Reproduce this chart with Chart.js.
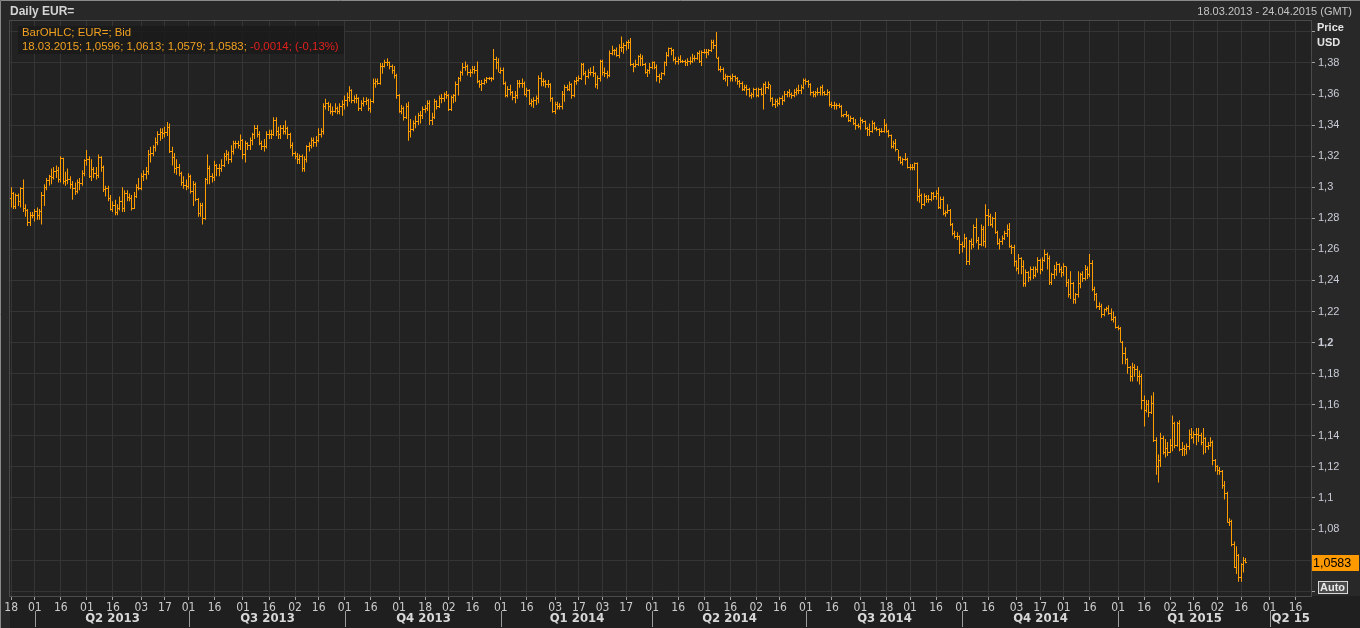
<!DOCTYPE html>
<html>
<head>
<meta charset="utf-8">
<title>Daily EUR=</title>
<script src="https://cdn.jsdelivr.net/npm/chart.js@4.4.1/dist/chart.umd.min.js"></script>
<style>
  html, body { margin: 0; padding: 0; background: #262626; overflow: hidden; }
  canvas { display: block; }
</style>
</head>
<body>
<canvas id="eurChart" width="1360" height="628"></canvas>
<script>
// EUR= daily bid bars, one per weekday from 18.03.2013 to 18.03.2015.
// FX trades round the clock, so each bar opens at the previous close.
const firstOpen = 1.293;

const closes = [
  1.296,1.2875,1.2945,1.2905,1.299, 1.286,1.285,1.2775,1.282,1.282,
  1.2845,1.2815,1.2845,1.2945,1.3, 1.3045,1.307,1.306,1.31,1.311,
  1.305,1.3185,1.304,1.3045,1.305, 1.302,1.299,1.2975,1.303,1.3025,
  1.309,1.317,1.318,1.307,1.3115, 1.309,1.3075,1.319,1.313,1.2985,
  1.299,1.293,1.2855,1.288,1.2835, 1.286,1.291,1.286,1.296,1.2935,
  1.293,1.2865,1.294,1.3,1.2995, 1.307,1.308,1.31,1.321,1.322,
  1.3255,1.329,1.334,1.335,1.3345, 1.335,1.3385,1.323,1.319,1.312,
  1.313,1.309,1.303,1.301,1.3005, 1.307,1.2975,1.302,1.292,1.283,
  1.288,1.28,1.305,1.312,1.307, 1.306,1.314,1.312,1.312,1.314,
  1.32,1.321,1.318,1.323,1.328, 1.328,1.327,1.33,1.321,1.328,
  1.327,1.33,1.334,1.338,1.334, 1.328,1.326,1.326,1.334,1.334,
  1.334,1.343,1.336,1.334,1.338, 1.336,1.338,1.334,1.327,1.322,
  1.32,1.318,1.32,1.312,1.318, 1.326,1.327,1.33,1.329,1.33,
  1.334,1.336,1.352,1.354,1.352, 1.349,1.349,1.351,1.349,1.352,
  1.353,1.356,1.358,1.362,1.356, 1.357,1.357,1.351,1.354,1.355,
  1.356,1.351,1.355,1.367,1.368, 1.367,1.378,1.378,1.38,1.38,
  1.378,1.375,1.372,1.359,1.349, 1.351,1.345,1.352,1.336,1.337,
  1.341,1.342,1.346,1.346,1.35, 1.351,1.354,1.343,1.345,1.355,
  1.352,1.357,1.357,1.36,1.359, 1.35,1.358,1.359,1.366,1.37,
  1.374,1.377,1.378,1.374,1.374, 1.376,1.375,1.368,1.366,1.367,
  1.369,1.37,1.37,1.37,1.382, 1.38,1.374,1.375,1.367,1.359,
  1.363,1.361,1.358,1.359,1.367, 1.367,1.367,1.36,1.362,1.354,
  1.355,1.356,1.357,1.37,1.368, 1.368,1.366,1.366,1.357,1.349,
  1.353,1.352,1.352,1.36,1.364, 1.363,1.366,1.359,1.368,1.369,
  1.37,1.379,1.373,1.371,1.374, 1.374,1.373,1.366,1.37,1.381,
  1.374,1.373,1.372,1.386,1.388, 1.388,1.385,1.39,1.39,1.391,
  1.393,1.393,1.379,1.378,1.379, 1.384,1.383,1.379,1.374,1.375,
  1.377,1.38,1.377,1.371,1.37, 1.373,1.38,1.385,1.389,1.388,
  1.382,1.381,1.382,1.381,1.381, 1.38,1.381,1.381,1.383,1.383,
  1.386,1.381,1.387,1.387,1.387, 1.388,1.393,1.391,1.383,1.376,
  1.376,1.37,1.371,1.371,1.37, 1.371,1.37,1.368,1.367,1.363,
  1.364,1.363,1.359,1.36,1.363, 1.359,1.363,1.36,1.366,1.364,
  1.366,1.357,1.353,1.355,1.354, 1.357,1.356,1.36,1.361,1.36,
  1.359,1.361,1.362,1.362,1.364, 1.369,1.368,1.366,1.361,1.36,
  1.361,1.361,1.364,1.361,1.36, 1.361,1.353,1.3525,1.3525,1.3525,
  1.352,1.346,1.3465,1.346,1.343, 1.344,1.341,1.34,1.339,1.343,
  1.342,1.338,1.337,1.336,1.341, 1.338,1.337,1.336,1.336,1.34,
  1.336,1.333,1.326,1.328,1.324, 1.319,1.316,1.318,1.318,1.313,
  1.313,1.313,1.315,1.294,1.295, 1.289,1.294,1.292,1.292,1.296,
  1.294,1.296,1.287,1.292,1.283, 1.284,1.285,1.276,1.27,1.268,
  1.268,1.263,1.262,1.267,1.252, 1.265,1.263,1.274,1.266,1.263,
  1.273,1.265,1.282,1.281,1.276, 1.28,1.271,1.264,1.265,1.267,
  1.27,1.273,1.262,1.261,1.252, 1.248,1.254,1.249,1.238,1.245,
  1.242,1.247,1.243,1.247,1.253, 1.247,1.253,1.257,1.254,1.239,
  1.244,1.247,1.25,1.247,1.245, 1.249,1.239,1.231,1.238,1.228,
  1.231,1.238,1.244,1.241,1.247, 1.244,1.251,1.234,1.231,1.223,
  1.223,1.218,1.221,1.222,1.219, 1.215,1.216,1.21,1.209,1.2,
  1.193,1.189,1.184,1.178,1.184, 1.183,1.178,1.178,1.163,1.156,
  1.16,1.155,1.161,1.137,1.12, 1.124,1.138,1.129,1.132,1.129,
  1.134,1.148,1.134,1.148,1.131, 1.132,1.131,1.133,1.141,1.139,
  1.141,1.141,1.14,1.136,1.138, 1.133,1.134,1.136,1.124,1.12,
  1.118,1.117,1.108,1.103,1.084, 1.085,1.07,1.055,1.063,1.049,
  1.057,1.0596,1.0583
];

const highs = [
  1.3,1.297,1.296,1.296,1.3, 1.305,1.289,1.286,1.284,1.284,
  1.286,1.287,1.286,1.297,1.302, 1.306,1.308,1.312,1.313,1.314,
  1.313,1.32,1.319,1.31,1.312, 1.307,1.304,1.303,1.305,1.306,
  1.311,1.318,1.324,1.32,1.318, 1.313,1.313,1.321,1.32,1.314,
  1.301,1.301,1.295,1.291,1.292, 1.289,1.294,1.3,1.298,1.298,
  1.296,1.295,1.297,1.302,1.306, 1.309,1.311,1.313,1.324,1.326,
  1.327,1.332,1.336,1.338,1.338, 1.339,1.342,1.341,1.326,1.322,
  1.318,1.315,1.31,1.307,1.305, 1.309,1.308,1.304,1.303,1.293,
  1.29,1.29,1.306,1.321,1.314, 1.309,1.317,1.315,1.315,1.318,
  1.322,1.324,1.323,1.327,1.33, 1.33,1.33,1.334,1.331,1.33,
  1.329,1.332,1.335,1.34,1.34, 1.336,1.33,1.331,1.336,1.337,
  1.337,1.345,1.345,1.339,1.34, 1.34,1.343,1.339,1.335,1.329,
  1.323,1.322,1.321,1.321,1.32, 1.327,1.329,1.332,1.332,1.333,
  1.338,1.338,1.354,1.357,1.355, 1.354,1.352,1.354,1.352,1.354,
  1.356,1.359,1.361,1.365,1.363, 1.359,1.36,1.358,1.356,1.358,
  1.358,1.357,1.357,1.37,1.37, 1.37,1.38,1.38,1.382,1.383,
  1.381,1.379,1.378,1.373,1.36, 1.353,1.352,1.354,1.355,1.344,
  1.343,1.346,1.348,1.349,1.352, 1.353,1.356,1.356,1.348,1.357,
  1.356,1.359,1.36,1.361,1.362, 1.36,1.359,1.36,1.368,1.371,
  1.375,1.38,1.381,1.379,1.376, 1.378,1.378,1.381,1.369,1.369,
  1.37,1.371,1.371,1.371,1.389, 1.384,1.383,1.377,1.377,1.368,
  1.365,1.366,1.362,1.362,1.369, 1.369,1.37,1.368,1.364,1.363,
  1.357,1.358,1.359,1.372,1.374, 1.37,1.369,1.369,1.367,1.358,
  1.355,1.355,1.354,1.362,1.366, 1.366,1.368,1.367,1.369,1.371,
  1.372,1.38,1.38,1.375,1.376, 1.377,1.378,1.374,1.372,1.382,
  1.382,1.377,1.375,1.388,1.391, 1.389,1.39,1.392,1.397,1.393,
  1.394,1.395,1.396,1.38,1.382, 1.385,1.386,1.385,1.38,1.376,
  1.38,1.381,1.381,1.379,1.373, 1.374,1.381,1.387,1.39,1.39,
  1.389,1.384,1.384,1.385,1.382, 1.382,1.383,1.384,1.386,1.385,
  1.387,1.388,1.388,1.389,1.389, 1.389,1.395,1.395,1.4,1.384,
  1.378,1.377,1.373,1.372,1.372, 1.373,1.372,1.371,1.369,1.368,
  1.366,1.366,1.364,1.361,1.364, 1.364,1.364,1.364,1.367,1.368,
  1.368,1.366,1.358,1.357,1.357, 1.358,1.359,1.362,1.362,1.363,
  1.361,1.363,1.364,1.366,1.366, 1.37,1.37,1.369,1.367,1.362,
  1.362,1.364,1.365,1.366,1.362, 1.363,1.362,1.355,1.355,1.354,
  1.354,1.353,1.347,1.349,1.347, 1.346,1.345,1.344,1.341,1.345,
  1.344,1.343,1.339,1.341,1.343, 1.342,1.339,1.338,1.338,1.344,
  1.341,1.337,1.334,1.33,1.331, 1.324,1.32,1.319,1.322,1.319,
  1.315,1.315,1.316,1.316,1.299, 1.296,1.296,1.295,1.295,1.297,
  1.297,1.298,1.3,1.294,1.294, 1.285,1.289,1.286,1.277,1.272,
  1.271,1.269,1.265,1.27,1.268, 1.266,1.267,1.276,1.28,1.268,
  1.276,1.275,1.289,1.286,1.283, 1.281,1.284,1.272,1.267,1.269,
  1.272,1.276,1.277,1.263,1.263, 1.253,1.257,1.255,1.253,1.247,
  1.246,1.249,1.249,1.249,1.255, 1.254,1.255,1.26,1.258,1.256,
  1.245,1.25,1.252,1.251,1.249, 1.251,1.249,1.241,1.246,1.239,
  1.232,1.246,1.245,1.246,1.25, 1.249,1.257,1.253,1.236,1.232,
  1.226,1.225,1.222,1.223,1.224, 1.222,1.22,1.217,1.211,1.21,
  1.201,1.197,1.19,1.185,1.187, 1.186,1.185,1.182,1.18,1.166,
  1.163,1.163,1.166,1.168,1.139, 1.128,1.142,1.14,1.138,1.136,
  1.138,1.153,1.149,1.149,1.15, 1.136,1.134,1.135,1.144,1.145,
  1.143,1.145,1.145,1.142,1.145, 1.139,1.136,1.139,1.137,1.125,
  1.121,1.12,1.118,1.111,1.104, 1.087,1.086,1.072,1.069,1.064,
  1.058,1.062,1.0613
];

const lows = [
  1.287,1.286,1.286,1.288,1.287, 1.284,1.281,1.275,1.275,1.28,
  1.278,1.279,1.279,1.276,1.288, 1.298,1.301,1.302,1.305,1.306,
  1.303,1.303,1.302,1.301,1.302, 1.299,1.292,1.295,1.296,1.298,
  1.301,1.307,1.314,1.306,1.304, 1.306,1.305,1.306,1.31,1.297,
  1.294,1.291,1.285,1.284,1.282, 1.282,1.285,1.284,1.284,1.291,
  1.291,1.285,1.286,1.293,1.298, 1.298,1.304,1.305,1.308,1.316,
  1.32,1.323,1.327,1.33,1.331, 1.332,1.333,1.322,1.314,1.309,
  1.308,1.307,1.301,1.299,1.298, 1.299,1.296,1.288,1.291,1.281,
  1.281,1.276,1.279,1.302,1.302, 1.303,1.304,1.307,1.307,1.31,
  1.313,1.317,1.315,1.316,1.321, 1.325,1.325,1.324,1.318,1.316,
  1.324,1.324,1.327,1.331,1.332, 1.327,1.324,1.323,1.325,1.331,
  1.331,1.333,1.333,1.331,1.331, 1.334,1.334,1.331,1.325,1.32,
  1.318,1.315,1.315,1.31,1.31, 1.316,1.323,1.325,1.326,1.326,
  1.329,1.332,1.334,1.35,1.349, 1.347,1.346,1.348,1.347,1.347,
  1.346,1.35,1.352,1.355,1.354, 1.354,1.354,1.349,1.349,1.352,
  1.353,1.349,1.348,1.354,1.364, 1.366,1.366,1.373,1.377,1.378,
  1.376,1.373,1.37,1.357,1.348, 1.347,1.343,1.344,1.33,1.332,
  1.336,1.338,1.34,1.341,1.344, 1.348,1.349,1.34,1.34,1.344,
  1.35,1.351,1.354,1.355,1.357, 1.349,1.349,1.354,1.355,1.359,
  1.368,1.372,1.375,1.372,1.371, 1.373,1.373,1.367,1.364,1.362,
  1.366,1.367,1.369,1.368,1.369, 1.376,1.374,1.373,1.366,1.358,
  1.358,1.359,1.356,1.354,1.357, 1.364,1.364,1.359,1.358,1.353,
  1.352,1.351,1.353,1.354,1.365, 1.365,1.364,1.364,1.355,1.348,
  1.347,1.35,1.35,1.35,1.355, 1.362,1.362,1.357,1.358,1.366,
  1.368,1.369,1.372,1.366,1.37, 1.372,1.371,1.364,1.363,1.368,
  1.372,1.371,1.37,1.371,1.385, 1.385,1.384,1.383,1.387,1.386,
  1.388,1.389,1.378,1.374,1.377, 1.378,1.378,1.378,1.373,1.371,
  1.373,1.376,1.376,1.368,1.367, 1.369,1.372,1.378,1.384,1.385,
  1.381,1.379,1.379,1.38,1.38, 1.378,1.378,1.379,1.38,1.381,
  1.382,1.38,1.378,1.386,1.383, 1.385,1.387,1.389,1.383,1.375,
  1.374,1.369,1.368,1.365,1.368, 1.368,1.368,1.366,1.364,1.362,
  1.362,1.359,1.358,1.357,1.358, 1.358,1.358,1.359,1.35,1.36,
  1.363,1.355,1.352,1.351,1.352, 1.353,1.353,1.355,1.358,1.358,
  1.357,1.358,1.359,1.36,1.36, 1.363,1.366,1.364,1.359,1.358,
  1.358,1.359,1.359,1.359,1.359, 1.359,1.352,1.351,1.35,1.35,
  1.351,1.345,1.345,1.345,1.342, 1.342,1.34,1.337,1.338,1.337,
  1.341,1.337,1.333,1.333,1.335, 1.337,1.336,1.333,1.335,1.335,
  1.335,1.332,1.325,1.325,1.323, 1.317,1.315,1.314,1.317,1.312,
  1.311,1.311,1.311,1.291,1.29, 1.286,1.288,1.29,1.29,1.291,
  1.292,1.292,1.286,1.286,1.282, 1.281,1.283,1.275,1.269,1.267,
  1.266,1.257,1.258,1.261,1.25, 1.25,1.26,1.261,1.264,1.26,
  1.262,1.262,1.261,1.275,1.275, 1.274,1.27,1.263,1.26,1.263,
  1.266,1.268,1.261,1.257,1.249, 1.246,1.244,1.244,1.236,1.236,
  1.239,1.24,1.241,1.242,1.245, 1.244,1.246,1.252,1.247,1.237,
  1.237,1.241,1.243,1.245,1.242, 1.243,1.236,1.229,1.228,1.225,
  1.225,1.229,1.235,1.239,1.24, 1.241,1.242,1.233,1.227,1.222,
  1.221,1.216,1.217,1.22,1.218, 1.214,1.213,1.209,1.208,1.2,
  1.186,1.186,1.18,1.175,1.175, 1.178,1.175,1.173,1.157,1.146,
  1.155,1.152,1.154,1.136,1.115, 1.11,1.12,1.128,1.126,1.127,
  1.129,1.13,1.132,1.133,1.13, 1.127,1.127,1.128,1.131,1.138,
  1.135,1.134,1.136,1.134,1.128, 1.129,1.131,1.133,1.121,1.117,
  1.115,1.115,1.106,1.099,1.084, 1.082,1.069,1.055,1.051,1.046,
  1.046,1.052,1.0579
];

const yTicks = [1.04, 1.06, 1.08, 1.1, 1.12, 1.14, 1.16, 1.18, 1.2, 1.22,
                1.24, 1.26, 1.28, 1.3, 1.32, 1.34, 1.36, 1.38, 1.4];
// labels hidden under the caption, the price box and the Auto button
const hiddenYLabels = [1.04, 1.06, 1.4];
const quarterLabels = ['Q2 2013', 'Q3 2013', 'Q4 2013', 'Q1 2014', 'Q2 2014',
                       'Q3 2014', 'Q4 2014', 'Q1 2015', 'Q2 15'];
const legendTitle = 'BarOHLC; EUR=; Bid';
const legendQuote = '18.03.2015; 1,0596; 1,0613; 1,0579; 1,0583; ';
const legendChange = '-0,0014; (-0,13%)';

const ORANGE = '#ff9c00';
const GRID = '#353535';
const SANS = '"Liberation Sans", Arial, sans-serif';
const NARROW = '"Liberation Sans Narrow", "DejaVu Sans Condensed", sans-serif';

// weekday calendar of the axis, 18.03.2013 - 24.04.2015
const dates = [];
for (let t = Date.UTC(2013, 2, 18); t <= Date.UTC(2015, 3, 24); t += 864e5) {
  const d = new Date(t);
  if (d.getUTCDay() % 6) dates.push(d);
}

// ticks at the first weekday of a month and the first weekday from the 16th on
const dayTicks = [];
const quarterStarts = [];
dates.forEach((d, i) => {
  const p = dates[i - 1];
  const newMonth = p && d.getUTCMonth() !== p.getUTCMonth();
  if (!p || newMonth || (d.getUTCDate() >= 16 && p.getUTCDate() < 16)) dayTicks.push(i);
  if (newMonth && d.getUTCMonth() % 3 === 0) quarterStarts.push(i);
});

const fmt = v => String(+v.toFixed(2)).replace('.', ',');

const crispBars = {
  id: 'crispBars',
  beforeDatasetsDraw(chart) {
    chart.getDatasetMeta(0).data.forEach(el => { el.x = Math.floor(el.x) + 0.5; });
  }
};

const ohlcTicks = {
  id: 'ohlcTicks',
  afterDatasetsDraw(chart) {
    const { ctx, chartArea: a, scales: { x, y } } = chart;
    ctx.save();
    ctx.beginPath();
    ctx.rect(a.left, a.top, a.right - a.left, a.bottom - a.top);
    ctx.clip();
    ctx.fillStyle = ORANGE;
    closes.forEach((c, i) => {
      const open = i ? closes[i - 1] : firstOpen;
      const px = Math.floor(x.getPixelForValue(i));
      ctx.fillRect(px - 1, Math.floor(y.getPixelForValue(open)), 1, 1);
      ctx.fillRect(px + 1, Math.floor(y.getPixelForValue(c)), 1, 1);
    });
    ctx.restore();
  }
};

const frame = {
  id: 'frame',
  beforeDraw(chart) {
    const { ctx, chartArea: a, width, height } = chart;
    ctx.save();
    ctx.fillStyle = '#282828';
    ctx.fillRect(0, 0, width, height);
    ctx.fillStyle = '#222222';
    ctx.fillRect(a.left, a.top, a.right - a.left, a.bottom - a.top);
    ctx.fillStyle = '#1f1f1f';
    ctx.fillRect(a.left, a.bottom, width - a.left, height - a.bottom);
    ctx.restore();
  },
  afterDraw(chart) {
    const { ctx, chartArea: a, width, height, scales: { x, y } } = chart;
    ctx.save();

    // outer and plot borders
    ctx.strokeStyle = '#8a8a8a';
    ctx.lineWidth = 1;
    ctx.beginPath();
    ctx.moveTo(0.5, height); ctx.lineTo(0.5, 0.5); ctx.lineTo(width, 0.5);
    ctx.stroke();
    ctx.strokeStyle = '#4a4a4a';
    ctx.strokeRect(a.left - 0.5, a.top - 0.5, a.right - a.left + 1, a.bottom - a.top + 1);

    // header
    ctx.textBaseline = 'middle';
    ctx.fillStyle = '#d4d4d4';
    ctx.font = 'bold 12px ' + SANS;
    ctx.textAlign = 'left';
    ctx.fillText('Daily EUR=', 10, 12);
    ctx.font = '11px ' + SANS;
    ctx.fillStyle = '#c4c4c4';
    ctx.textAlign = 'right';
    ctx.fillText('18.03.2013 - 24.04.2015 (GMT)', 1352, 12);

    // legend
    ctx.fillStyle = 'rgba(26,26,26,0.85)';
    ctx.fillRect(18, 26, 326, 28);
    ctx.textAlign = 'left';
    ctx.font = '11.4px ' + SANS;
    ctx.fillStyle = '#f0a020';
    ctx.fillText(legendTitle, 22, 33);
    ctx.fillText(legendQuote, 22, 47);
    ctx.fillStyle = '#e0201c';
    ctx.fillText(legendChange, 22 + ctx.measureText(legendQuote).width, 47);

    // price axis caption
    ctx.fillStyle = '#e4e4e4';
    ctx.font = 'bold 11px ' + SANS;
    ctx.fillText('Price', 1317, 28);
    ctx.fillText('USD', 1317, 43);

    // last price box
    const last = closes[closes.length - 1];
    const py = Math.round(y.getPixelForValue(last));
    ctx.fillStyle = '#ff9900';
    ctx.fillRect(a.right + 1, py - 8, 47, 16);
    ctx.fillStyle = '#000000';
    ctx.font = '12.5px ' + SANS;
    ctx.fillText(last.toFixed(4).replace('.', ','), a.right + 2, py + 0.5);

    // auto button
    ctx.fillStyle = '#4a4a4a';
    ctx.fillRect(1318, 581, 30, 13);
    ctx.strokeStyle = '#d8d8d8';
    ctx.strokeRect(1318.5, 581.5, 29, 12);
    ctx.fillStyle = '#e8e8e8';
    ctx.font = 'bold 11px ' + SANS;
    ctx.fillText('Auto', 1320, 588);

    // quarter row
    const seps = quarterStarts.map(i => Math.round(x.getPixelForValue(i)) + 0.5);
    ctx.strokeStyle = '#9c9c9c';
    ctx.beginPath();
    seps.forEach(px => { ctx.moveTo(px, 611); ctx.lineTo(px, 627); });
    ctx.stroke();
    ctx.fillStyle = '#d8d8d8';
    ctx.font = 'bold 13px ' + NARROW;
    ctx.textAlign = 'center';
    quarterLabels.forEach((q, k) => {
      const l = seps[k];
      const r = k + 1 < seps.length ? seps[k + 1] : a.right;
      ctx.fillText(q, (l + r) / 2, 619);
    });
    ctx.restore();
  }
};

const ctx = document.getElementById('eurChart').getContext('2d');
const eurChart = new Chart(ctx, {
  type: 'bar',
  data: {
    datasets: [{
      label: 'EUR=',
      data: closes.map((c, i) => ({ x: i, y: [lows[i], highs[i]] })),
      backgroundColor: ORANGE,
      borderWidth: 0,
      barThickness: 1,
      inflateAmount: 0
    }]
  },
  options: {
    responsive: false,
    animation: false,
    events: [],
    layout: { padding: { left: 10, top: 21, right: 0, bottom: 0 } },
    plugins: { legend: { display: false }, tooltip: { enabled: false } },
    scales: {
      x: {
        type: 'linear',
        min: -0.5,
        max: dates.length - 0.5,
        offset: false,
        afterBuildTicks: s => { s.ticks = dayTicks.map(v => ({ value: v })); },
        afterFit: s => { s.height = 32; },
        grid: { color: GRID, offset: false, tickColor: '#a0a0a0', tickLength: 4 },
        border: { color: '#4a4a4a' },
        ticks: {
          autoSkip: false,
          maxRotation: 0,
          padding: 1,
          color: '#cccccc',
          font: { family: NARROW, size: 12 },
          callback: v => String(dates[v].getUTCDate()).padStart(2, '0')
        }
      },
      y: {
        position: 'right',
        min: 1.0369,
        max: 1.4070,
        afterBuildTicks: s => { s.ticks = yTicks.map(v => ({ value: v })); },
        afterFit: s => { s.width = 49; },
        grid: { color: GRID, tickColor: '#a0a0a0', tickLength: 4 },
        border: { color: '#6a6a6a' },
        ticks: {
          padding: 3,
          color: '#c8ccd6',
          font: c => ({ family: SANS, size: 11, weight: c.tick && Math.abs(c.tick.value - 1.2) < 1e-6 ? 'bold' : 'normal' }),
          callback: v => hiddenYLabels.some(h => Math.abs(v - h) < 1e-6) ? '' : fmt(v)
        }
      }
    }
  },
  plugins: [frame, crispBars, ohlcTicks]
});
</script>
</body>
</html>
